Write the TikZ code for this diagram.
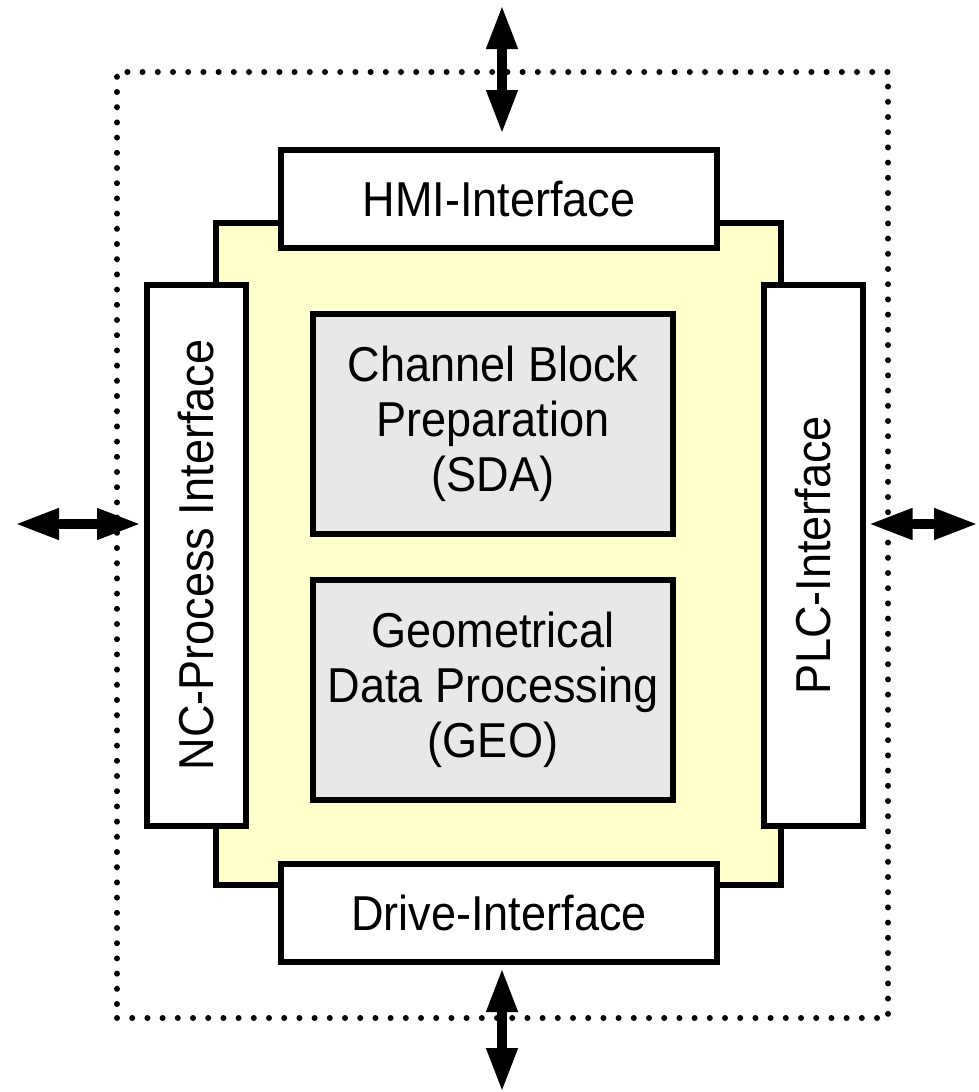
\documentclass[tikz,border=0pt]{standalone}
\usepackage{fontspec}
\setmainfont{Liberation Sans}[FakeStretch=0.92]
\usetikzlibrary{arrows.meta}
\definecolor{paleyellow}{HTML}{FFFFCC}
\definecolor{palegray}{HTML}{E8E8E8}
\tikzset{
  txt/.style={font=\fontsize{49}{55}\selectfont, align=center, inner sep=0pt},
  corebox/.style={draw=black, line width=6pt, fill=paleyellow, inner sep=0pt},
  ifbox/.style={draw=black, line width=6pt, fill=white, txt},
  funcbox/.style={draw=black, line width=6pt, fill=palegray, txt},
  dotframe/.style={draw=black, line width=6pt, dash pattern=on 0pt off 15.2pt, line cap=round, inner sep=0pt},
  dblarrow/.style={line width=10pt, {Triangle[length=44pt 0 0,width=29pt 0 0]}-{Triangle[length=44pt 0 0,width=29pt 0 0]}}
}
\begin{document}
\begin{tikzpicture}[x=1pt,y=-1pt]
\useasboundingbox[fill=white] (0,0) rectangle (978,1092);
% dotted frame
\node[dotframe, minimum width=771pt, minimum height=946pt] (frame) at (502.5,545) {};
% core
\node[corebox, minimum width=565pt, minimum height=662pt] (core) at (498.5,554) {};
% interfaces
\node[ifbox, minimum width=436pt, minimum height=98pt] (hmi) at (499,199) {HMI-Interface};
\node[ifbox, minimum width=436pt, minimum height=98pt] (drive) at (499,913) {Drive-Interface};
\node[ifbox, rotate=90, minimum width=541pt, minimum height=99pt] (nc) at (196.5,555) {NC-Process Interface};
\node[ifbox, rotate=90, minimum width=541pt, minimum height=99pt] (plc) at (813,555) {PLC-Interface};
% functional blocks
\node[funcbox, minimum width=360pt, minimum height=220pt] (sda) at (493,424) {Channel Block\\Preparation\\(SDA)};
\node[funcbox, minimum width=360pt, minimum height=220pt] (geo) at (493,690) {Geometrical\\Data Processing\\(GEO)};
% free ends
\coordinate (topend) at (502,5);
\coordinate (botend) at (502,1092);
\coordinate (leftend) at (15,524);
\coordinate (rightend) at (978,524);
% arrows
\draw[dblarrow, shorten >=13pt] (topend) -- (topend |- hmi.north);
\draw[dblarrow] (drive.south -| botend) ++(0,3) -- (botend);
\draw[dblarrow] (leftend) -- ([xshift=-3pt]nc.north |- leftend);
\draw[dblarrow] ([xshift=3pt]plc.south |- rightend) -- (rightend);
\end{tikzpicture}
\end{document}
